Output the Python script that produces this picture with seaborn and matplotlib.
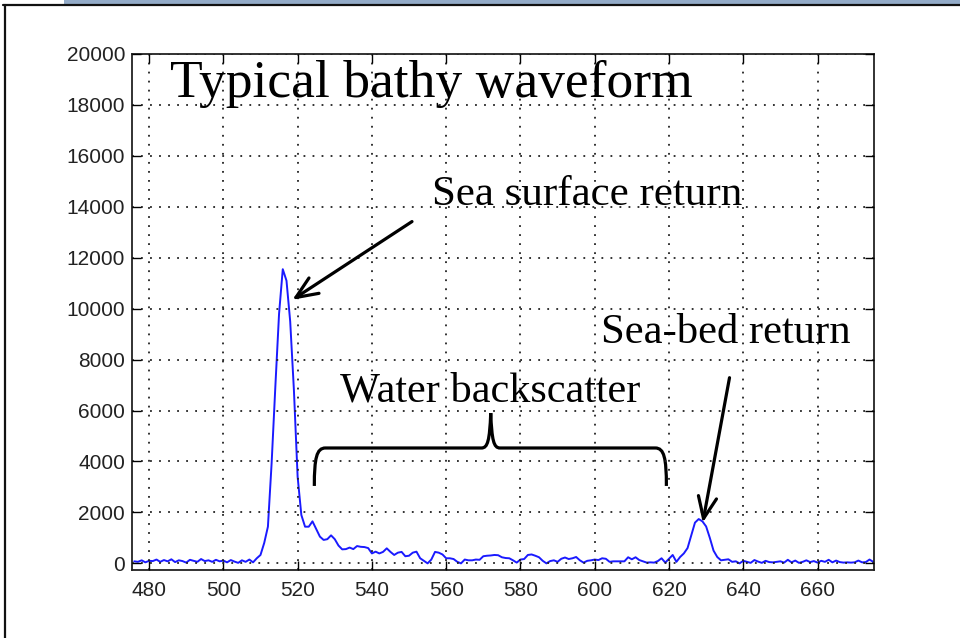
import numpy as np
import pandas as pd
import matplotlib
matplotlib.use("Agg")
import matplotlib.pyplot as plt
import seaborn as sns
from matplotlib.path import Path
from matplotlib.patches import PathPatch, Rectangle
from matplotlib.lines import Line2D

# ---- data ----
sample_time = list(range(476, 676))
amplitude = [
    80, 60, 120, 40, 100, 90, 150, 60, 130, 80,          # 476-485
    160, 50, 120, 90, 30, 140, 100, 60, 170, 90,         # 486-495
    120, 60, 140, 80, 110, 40, 130, 70, 20, 120,         # 496-505
    60, 150, 40, 200, 330, 800, 1440, 3940, 6940, 9800,  # 506-515
    11550, 11100, 9500, 6800, 3400, 1900, 1440, 1440, 1650, 1350,  # 516-525
    1050, 920, 950, 1100, 950, 700, 550, 560, 620, 560,  # 526-535
    680, 650, 640, 600, 390, 460, 390, 450, 590, 450,    # 536-545
    330, 420, 450, 280, 300, 420, 460, 200, 100, 0,      # 546-555
    150, 450, 420, 350, 200, 200, 170, 60, 0, 150,       # 556-565
    120, 120, 150, 140, 280, 300, 310, 330, 320, 240,    # 566-575
    210, 200, 120, 30, 150, 170, 330, 350, 300, 240,     # 576-585
    100, 0, 90, 120, 60, 180, 230, 170, 200, 250,        # 586-595
    120, 30, 100, 120, 150, 130, 200, 180, 60, 80,       # 596-605
    80, 80, 80, 240, 160, 240, 130, 80, 30, 40,          # 606-615
    30, 90, 200, 30, 180, 330, 60, 250, 390, 600,        # 616-625
    1100, 1600, 1740, 1650, 1450, 1000, 500, 250, 120, 140,  # 626-635
    160, 60, 80, 0, 100, 60, 20, 130, 70, 20,            # 636-645
    100, 50, 40, 60, 80, 30, 140, 40, 110, 20,           # 646-655
    60, 120, 50, 90, 30, 100, 60, 140, 40, 110,          # 656-665
    50, 30, 40, 30, 40, 110, 40, 50, 150, 60,            # 666-675
]
x_ticks = [480, 500, 520, 540, 560, 580, 600, 620, 640, 660]
y_ticks = [0, 2000, 4000, 6000, 8000, 10000, 12000, 14000, 16000, 18000, 20000]

df = pd.DataFrame({"t": sample_time, "a": amplitude})

sns.set_theme(style="white")
plt.rcParams["font.family"] = ["Liberation Sans", "DejaVu Sans"]

fig = plt.figure(figsize=(9.6, 6.38), dpi=100)
fig.patch.set_facecolor("white")
ax = fig.add_axes([0.1375, 0.1066, 0.7725, 0.8088])

sns.lineplot(data=df, x="t", y="a", ax=ax, color="#1a1aff", linewidth=1.4)

ax.set_xlim(475.4, 675.1)
ax.set_ylim(-260, 20000)
ax.set_xticks(x_ticks)
ax.set_yticks(y_ticks)
ax.set_xlabel("")
ax.set_ylabel("")
ax.tick_params(direction="in", length=6.5, width=1.0, colors="black",
               top=True, right=True, bottom=True, left=True,
               labelsize=15, labelcolor="#222222")
ax.tick_params(axis="x", pad=8)
ax.tick_params(axis="y", pad=5)
for s in ax.spines.values():
    s.set_visible(True)
    s.set_color("#222222")
    s.set_linewidth(1.3)
ax.grid(True, color="#222222", linestyle=(0, (1, 4)), linewidth=1.3)
ax.set_axisbelow(False)

serif = ["Liberation Serif", "DejaVu Serif"]
ax.text(485.6, 18320, "Typical bathy waveform", family=serif, fontsize=38.5,
        va="baseline", ha="left", color="black")
ax.text(556.1, 14080, "Sea surface return", family=serif, fontsize=31,
        va="baseline", ha="left", color="black")
ax.text(601.6, 8660, "Sea-bed return", family=serif, fontsize=30.7,
        va="baseline", ha="left", color="black")
ax.text(531.3, 6340, "Water backscatter", family=serif, fontsize=30.4,
        va="baseline", ha="left", color="black")

arrow_kw = dict(arrowstyle="->,head_length=1.3,head_width=0.55", color="black",
                lw=2.3, shrinkA=0, shrinkB=0)
ax.annotate("", xy=(518.6, 10350), xytext=(550.8, 13420), arrowprops=arrow_kw)
ax.annotate("", xy=(629.1, 1600), xytext=(636.3, 7290), arrowprops=arrow_kw)

# curly brace
xl, xr, xc = 524.5, 619.3, 572.0
yb, yl, yt = 3040, 4530, 5900
verts = [
    (xl, yb), (xl, yl - 400), (xl + 0.6, yl), (xl + 3.0, yl),
    (xc - 2.5, yl),
    (xc - 0.8, yl), (xc - 0.3, yl + 300), (xc, yt),
    (xc + 0.3, yl + 300), (xc + 0.8, yl), (xc + 2.5, yl),
    (xr - 3.0, yl),
    (xr - 0.6, yl), (xr, yl - 400), (xr, yb),
]
codes = [Path.MOVETO, Path.CURVE4, Path.CURVE4, Path.CURVE4,
         Path.LINETO,
         Path.CURVE4, Path.CURVE4, Path.CURVE4,
         Path.CURVE4, Path.CURVE4, Path.CURVE4,
         Path.LINETO,
         Path.CURVE4, Path.CURVE4, Path.CURVE4]
ax.add_patch(PathPatch(Path(verts, codes), fill=False, lw=2.3, color="black",
                       capstyle="butt"))

# slide frame decorations
W, H = 960.0, 638.0
fig.add_artist(Rectangle((64 / W, 1 - 4 / H), 1 - 64 / W, 4 / H,
                         transform=fig.transFigure, facecolor="#93abc8",
                         edgecolor="none"))
fig.add_artist(Line2D([3 / W, 1], [1 - 5 / H, 1 - 5 / H],
                      transform=fig.transFigure, color="#111111", lw=1.6))
fig.add_artist(Line2D([4.5 / W, 4.5 / W], [0, 1 - 5 / H],
                      transform=fig.transFigure, color="#111111", lw=1.6))

fig.savefig("out.png", dpi=100, facecolor="white")
